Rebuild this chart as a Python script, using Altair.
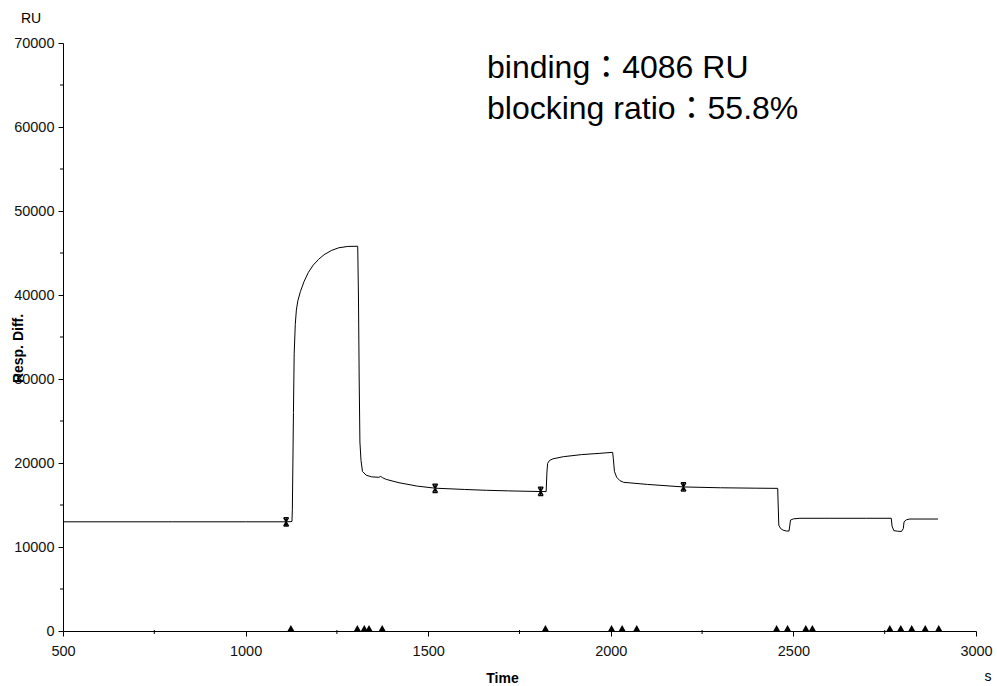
import altair as alt
import pandas as pd

# ---- data ----
time_s = [500, 800, 1000, 1110, 1124, 1127, 1128, 1129.5, 1131, 1133, 1136, 1139, 1143, 1150,
          1160, 1172, 1185, 1200, 1215, 1235, 1255, 1280, 1307, 1309, 1311, 1313, 1316,
          1320, 1330, 1345, 1365, 1370, 1375, 1385, 1420, 1470, 1519, 1600, 1660, 1720,
          1808, 1823, 1825, 1827, 1832, 1842, 1870, 1920, 1970, 2005, 2007, 2010, 2016,
          2025, 2035, 2100, 2199, 2300, 2400, 2457, 2460, 2465, 2472, 2481, 2488, 2490,
          2492, 2500, 2518, 2600, 2700, 2768, 2770, 2775, 2785, 2796, 2801, 2803, 2810,
          2819, 2896]
resp_ru = [13000, 13000, 13000, 13000, 13020, 13050, 14500, 20000, 26000, 33000, 36500, 38200,
           39300, 40400, 41600, 42700, 43550, 44250, 44800, 45300, 45620, 45780, 45800, 40000,
           30000, 22500, 20300, 19000, 18550, 18350, 18300, 18400, 18250, 18050, 17650, 17250,
           17000, 16850, 16750, 16680, 16600, 16600, 18800, 19950, 20300, 20500, 20750, 21000,
           21150, 21270, 20500, 19000, 18300, 17900, 17700, 17450, 17150, 17050, 17000, 16980,
           12600, 12200, 12000, 11900, 11900, 12500, 13200, 13350, 13420, 13420, 13420, 13420,
           12500, 11950, 11880, 11850, 12200, 13000, 13250, 13330, 13330]

event_times = [1124, 1306, 1325, 1338, 1374, 1821, 2002, 2031, 2071, 2454, 2484, 2534, 2552,
               2764, 2794, 2824, 2861, 2898]
marker_times = [1111, 1519, 1808, 2199]
marker_resp = [13000, 16980, 16620, 17150]

x_ticks = [500, 1000, 1500, 2000, 2500, 3000]
y_ticks = [0, 10000, 20000, 30000, 40000, 50000, 60000, 70000]
x_minor = [750, 1250, 1750, 2250, 2750]
y_minor = [5000, 15000, 25000, 35000, 45000, 55000, 65000]

annot_text = ["binding：4086 RU", "blocking ratio：55.8%"]
annot_x = [1661, 1661]
annot_y = [65800, 61000]

FONT = "Liberation Sans, Arial, Noto Sans CJK TC"
W, H = 913, 588

line_df = pd.DataFrame({"time": time_s, "resp": resp_ru})
event_df = pd.DataFrame({"time": event_times, "resp": [0] * len(event_times)})
marker_df = pd.DataFrame({"time": marker_times, "resp": marker_resp})
annot_df = pd.DataFrame({"text": annot_text, "time": annot_x, "resp": annot_y})
xminor_df = pd.DataFrame({"time": x_minor})
yminor_df = pd.DataFrame({"resp": y_minor})

xscale = alt.Scale(domain=[500, 3000], nice=False, zero=False)
yscale = alt.Scale(domain=[0, 70000], nice=False)

x_axis = alt.Axis(values=x_ticks, format="d", title="Time", titleFont=FONT, titleFontSize=14,
                  titleFontWeight="bold", titleColor="black", titleX=439, titleY=51,
                  titleBaseline="alphabetic", titleAlign="center",
                  labelFont=FONT, labelFontSize=14.5, labelColor="#111", labelPadding=8,
                  labelFlush=False, labelOverlap=False, tickSize=5, tickColor="black",
                  domainColor="black", grid=False)
y_axis = alt.Axis(values=y_ticks, format="d", title="Resp. Diff.", titleFont=FONT,
                  titleFontSize=14, titleFontWeight="bold", titleColor="black",
                  titleAngle=270, titleX=-45, titleY=305, titleBaseline="middle",
                  titleAlign="center", labelFont=FONT, labelFontSize=14.5, labelColor="#111",
                  labelPadding=4, labelFlush=False, labelOverlap=False, tickSize=5,
                  tickColor="black", domainColor="black", grid=False)

X = alt.X("time:Q", scale=xscale, axis=x_axis)
Y = alt.Y("resp:Q", scale=yscale, axis=y_axis)

line = alt.Chart(line_df).mark_line(color="black", strokeWidth=1).encode(
    x=X, y=Y, order="time:Q")

asterisk = "M-0.6,-1L0.6,-1M-0.6,1L0.6,1M-0.6,-1L0.6,1M0.6,-1L-0.6,1M0,-1L0,1"
markers = alt.Chart(marker_df).mark_point(shape=asterisk, size=70, filled=False,
                                          color="black", opacity=1, strokeWidth=1.3).encode(
    x=X, y=Y)

events = alt.Chart(event_df).mark_point(shape="triangle-up", size=45, filled=True,
                                        color="black", opacity=1, yOffset=-3).encode(
    x=X, y=Y)

annot = alt.Chart(annot_df).mark_text(font=FONT, fontSize=32, align="left",
                                      baseline="alphabetic", color="black").encode(
    x=X, y=Y, text="text:N")

# minor ticks (x crosses the axis line slightly, y points outward)
xminor = alt.Chart(xminor_df).mark_rule(color="black", strokeWidth=1).encode(
    x=X, y=alt.value(H - 1), y2=alt.value(H + 3))
yminor = alt.Chart(yminor_df).mark_rule(color="black", strokeWidth=1).encode(
    y=Y, x=alt.value(-3), x2=alt.value(0))

unit_df = pd.DataFrame({"t": ["RU"]})
ru_label = alt.Chart(unit_df).mark_text(font=FONT, fontSize=14, align="center",
                                        baseline="alphabetic", color="black").encode(
    x=alt.value(-32), y=alt.value(-20), text="t:N")
s_df = pd.DataFrame({"t": ["s"]})
s_label = alt.Chart(s_df).mark_text(font=FONT, fontSize=14, align="center",
                                    baseline="alphabetic", color="black").encode(
    x=alt.value(925), y=alt.value(H + 50), text="t:N")

chart = alt.layer(line, markers, events, annot, xminor, yminor, ru_label, s_label).properties(
    width=W, height=H,
    autosize=alt.AutoSizeParams(type="none"),
    padding={"left": 63, "top": 43, "right": 21, "bottom": 55},
    background="white",
).configure_view(stroke=None)

chart.save("out.html", embed_options={"renderer": "svg", "actions": False})
